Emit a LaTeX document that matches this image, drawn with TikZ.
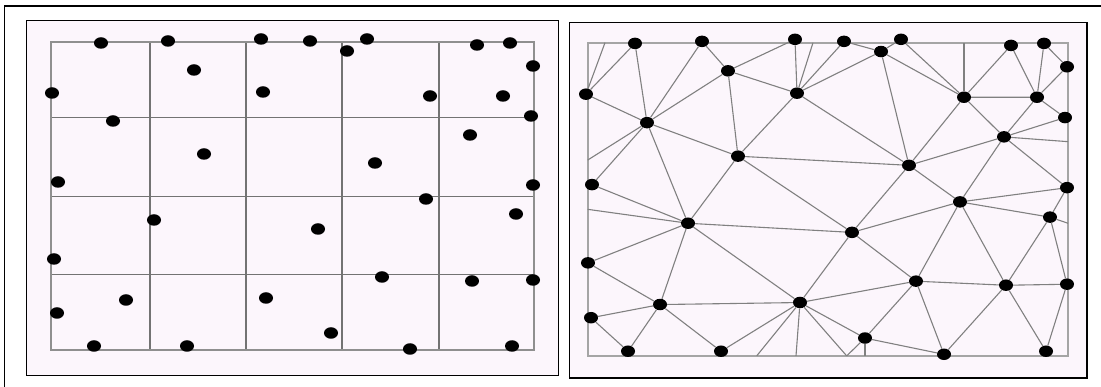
\documentclass[tikz,border=0pt]{standalone}
\usepackage{tikz}
\usetikzlibrary{shapes.geometric}
\definecolor{paper}{RGB}{252,246,252}
\definecolor{gridgray}{RGB}{115,115,115}
\definecolor{edgegray}{RGB}{128,128,128}
\definecolor{rimgray}{RGB}{165,165,165}
% sites: index/x/y
\newcommand{\sitelist}{1/101/43, 2/168/41, 3/261/39, 4/310/41, 5/347/51, 6/367/39,
  7/477/45, 8/510/43, 9/533/66, 10/52/93, 11/194/70, 12/263/92, 13/430/96,
  14/503/96, 15/531/116, 16/113/121, 17/470/135, 18/204/154, 19/375/163,
  20/58/182, 21/533/185, 22/426/199, 23/154/220, 24/516/214, 25/318/229,
  26/54/259, 27/382/277, 28/472/281, 29/533/280, 30/126/300, 31/266/298,
  32/57/313, 33/331/333, 34/94/346, 35/187/346, 36/410/349, 37/512/346}
\newcommand{\trilist}{r10/rb1, r10/r1, r10/r16, r1/r16, r2/r16, r2/r11, r11/r16,
  r11/r3, r11/r12, r11/r18, r16/r18, r16/rb2, r16/r20, r16/r23,
  r3/r12, r12/rb3, r12/r4, r12/r5, r12/r18, r12/r19,
  r4/r5, r5/r6, r5/r19, r5/r13, r6/r13, r13/rb4, r13/r7, r13/r14, r13/r17, r13/r19,
  r7/r14, r8/r14, r8/r9, r9/r14, r14/r15, r14/r17, r15/r17, r17/rb5, r17/r19,
  r17/r21, r17/r22, r19/r18, r19/r22, r19/r25, r18/r23, r18/r25,
  r20/r23, rb6/r23, r23/r25, r23/r26, r23/r30, r23/r31, r25/r31, r25/r22, r25/r27,
  r22/r21, r22/r24, r22/r27, r22/r28, r21/r24, r24/rb7, r24/r28, r24/r29,
  r27/r28, r28/r29, r28/r36, r28/r37, r29/r37, r27/r33, r27/r36, r27/r31,
  r33/r36, r33/rb8, r31/r33, r31/rb9, r33/rb9, r31/rb10, r31/rb11, r31/r35, r31/r30,
  r30/r32, r30/r26, r30/r34, r30/r35, r32/r34}

\begin{document}
\begin{tikzpicture}[x=1pt, y=-1pt,
    site/.style={ellipse,fill=black,inner sep=0pt,minimum width=14pt,minimum height=11.5pt},
    panel/.style={draw=black,line width=1.5pt,fill=paper},
    rim/.style={draw=rimgray,line width=1.8pt},
    gridline/.style={draw=gridgray,line width=1.1pt},
    tri/.style={draw=edgegray,line width=1.1pt}]
  \useasboundingbox (0,0) rectangle (1101,387);
  \draw[line width=1.3pt] (1101,6) -- (4.5,6) -- (4.5,387);

  % left panel: uniform grid
  \draw[panel] (26.7,20.7) rectangle (558.3,375.3);
  \foreach \gx in {150,246,342,439}
    \draw[gridline] (\gx,42.3) -- (\gx,350.3);
  \foreach \gy in {117.7,196.3,274.3}
    \draw[gridline] (51,\gy) -- (534,\gy);
  \draw[rim,draw=gridgray!80] (51,42.3) rectangle (534,350.3);
  \foreach \i/\px/\py in \sitelist
    \node[site] (l\i) at (\px,\py) {};

  % right panel: triangulation
  \draw[panel] (569.3,22.7) rectangle (1087,378);
  \begin{scope}[shift={(534,-0.3)}, yscale=1.016]
    \draw[rim] (53.7,42.3) rectangle (534,350.5);
    \coordinate (rb1) at (71,42.3);
    \coordinate (rb2) at (53.7,157.8);
    \coordinate (rb3) at (279,42.3);
    \coordinate (rb4) at (430,42.3);
    \coordinate (rb5) at (534,139.7);
    \coordinate (rb6) at (53.7,206.3);
    \coordinate (rb7) at (534,220);
    \coordinate (rb8) at (331,350.5);
    \coordinate (rb9) at (312.7,350.5);
    \coordinate (rb10) at (222.7,350.5);
    \coordinate (rb11) at (262,350.5);
    \foreach \i/\px/\py in \sitelist
      \node[site] (r\i) at (\px,\py) {};
    \foreach \a/\b in \trilist
      \draw[tri] (\a) -- (\b);
  \end{scope}
\end{tikzpicture}
\end{document}
